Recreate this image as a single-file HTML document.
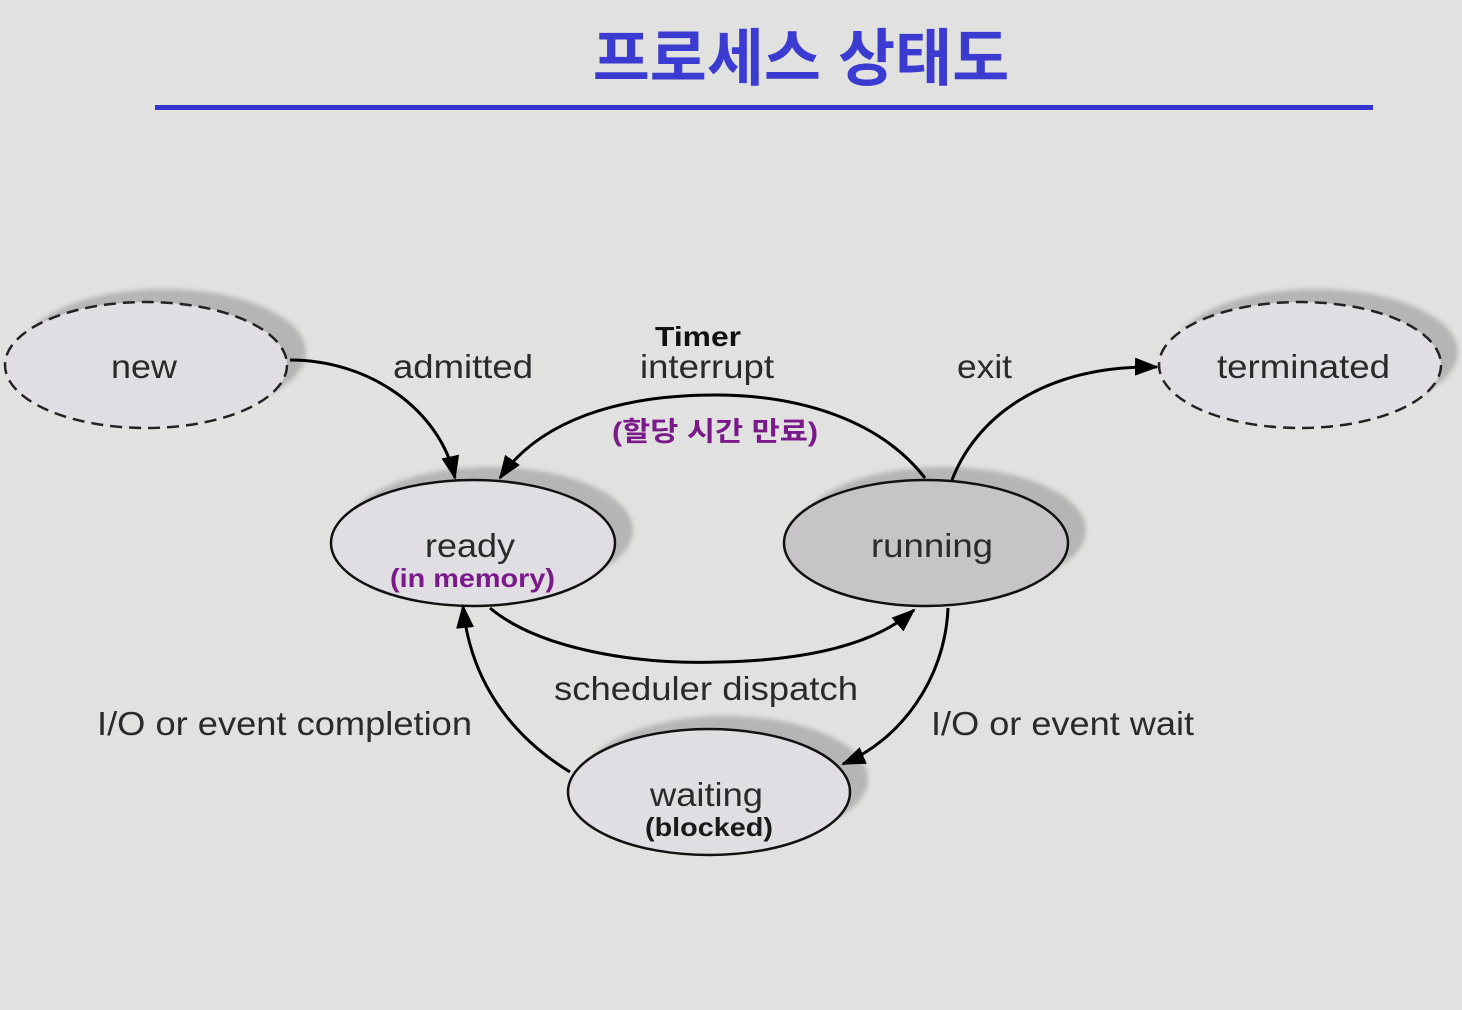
<!DOCTYPE html>
<html><head><meta charset="utf-8"><style>
html,body{margin:0;padding:0;background:#e1e1df;}
svg{display:block;}
text{font-family:"Liberation Sans","Noto Sans CJK KR",sans-serif;}
</style></head><body>
<svg width="1462" height="1010" viewBox="0 0 1462 1010" xmlns="http://www.w3.org/2000/svg">
<defs>
<filter id="b" x="-20%" y="-30%" width="140%" height="160%"><feGaussianBlur stdDeviation="2.5"/></filter>
<marker id="a" markerWidth="24" markerHeight="18" refX="22" refY="9" orient="auto" markerUnits="userSpaceOnUse" viewBox="0 0 24 18"><path d="M0,0 L24,9 L0,18 z" fill="#000"/></marker>
</defs>
<rect width="1462" height="1010" fill="#e1e1df"/>
<text x="801" y="80" text-anchor="middle" font-size="62" font-weight="bold" fill="#3b3bd2">프로세스 상태도</text>
<rect x="155" y="105" width="1218" height="5" fill="#3434d0"/>

<g fill="#b5b5b5" filter="url(#b)">
<ellipse cx="164" cy="352" rx="142" ry="63"/>
<ellipse cx="1316" cy="352" rx="142" ry="63"/>
<ellipse cx="490" cy="530" rx="143" ry="63"/>
<ellipse cx="943" cy="530" rx="143" ry="63"/>
<ellipse cx="726" cy="779" rx="142" ry="63"/>
</g>
<ellipse cx="146" cy="365" rx="141" ry="63" fill="#e0dee2" stroke="#222" stroke-width="2.5" stroke-dasharray="12,7"/>
<ellipse cx="1300" cy="365" rx="141" ry="63" fill="#e0dee2" stroke="#222" stroke-width="2.5" stroke-dasharray="12,7"/>
<ellipse cx="473" cy="543" rx="142" ry="63" fill="#e0dee2" stroke="#111" stroke-width="2.5"/>
<ellipse cx="926" cy="543" rx="142" ry="63" fill="#c6c4c6" stroke="#111" stroke-width="2.5"/>
<ellipse cx="709" cy="792" rx="141" ry="63" fill="#e0dee2" stroke="#111" stroke-width="2.5"/>

<g fill="none" stroke="#000" stroke-width="3" marker-end="url(#a)">
<path d="M290,360 C370,360 440,410 455,478"/>
<path d="M925,478 C880,420 800,395 715,395 C620,395 540,420 500,478"/>
<path d="M952,480 C975,420 1040,365 1157,367"/>
<path d="M490,608 C540,650 640,665 720,662 C820,660 880,640 914,610"/>
<path d="M948,608 C945,680 900,740 843,764"/>
<path d="M570,772 C510,735 470,680 463,606"/>
</g>

<g fill="#2a2a2a" font-size="33">
<text x="111" y="378" textLength="66" lengthAdjust="spacingAndGlyphs">new</text>
<text x="1217" y="378" textLength="173" lengthAdjust="spacingAndGlyphs">terminated</text>
<text x="425" y="557" textLength="90" lengthAdjust="spacingAndGlyphs">ready</text>
<text x="871" y="557" textLength="122" lengthAdjust="spacingAndGlyphs">running</text>
<text x="650" y="806" textLength="113" lengthAdjust="spacingAndGlyphs">waiting</text>
<text x="393" y="378" textLength="140" lengthAdjust="spacingAndGlyphs">admitted</text>
<text x="640" y="378" textLength="134" lengthAdjust="spacingAndGlyphs">interrupt</text>
<text x="957" y="378" textLength="55" lengthAdjust="spacingAndGlyphs">exit</text>
<text x="554" y="700" textLength="304" lengthAdjust="spacingAndGlyphs">scheduler dispatch</text>
<text x="97" y="735" textLength="375" lengthAdjust="spacingAndGlyphs">I/O or event completion</text>
<text x="931" y="735" textLength="263" lengthAdjust="spacingAndGlyphs">I/O or event wait</text>
</g>
<text x="655" y="346" font-size="28" font-weight="bold" fill="#111" textLength="86" lengthAdjust="spacingAndGlyphs">Timer</text>
<text x="612" y="441" font-size="27" font-weight="bold" fill="#7a1a8a" textLength="206" lengthAdjust="spacingAndGlyphs">(할당 시간 만료)</text>
<text x="390" y="587" font-size="26" font-weight="bold" fill="#7a1a8a" textLength="165" lengthAdjust="spacingAndGlyphs">(in memory)</text>
<text x="645" y="836" font-size="26" font-weight="bold" fill="#1a1a1a" textLength="128" lengthAdjust="spacingAndGlyphs">(blocked)</text>
</svg>
</body></html>
